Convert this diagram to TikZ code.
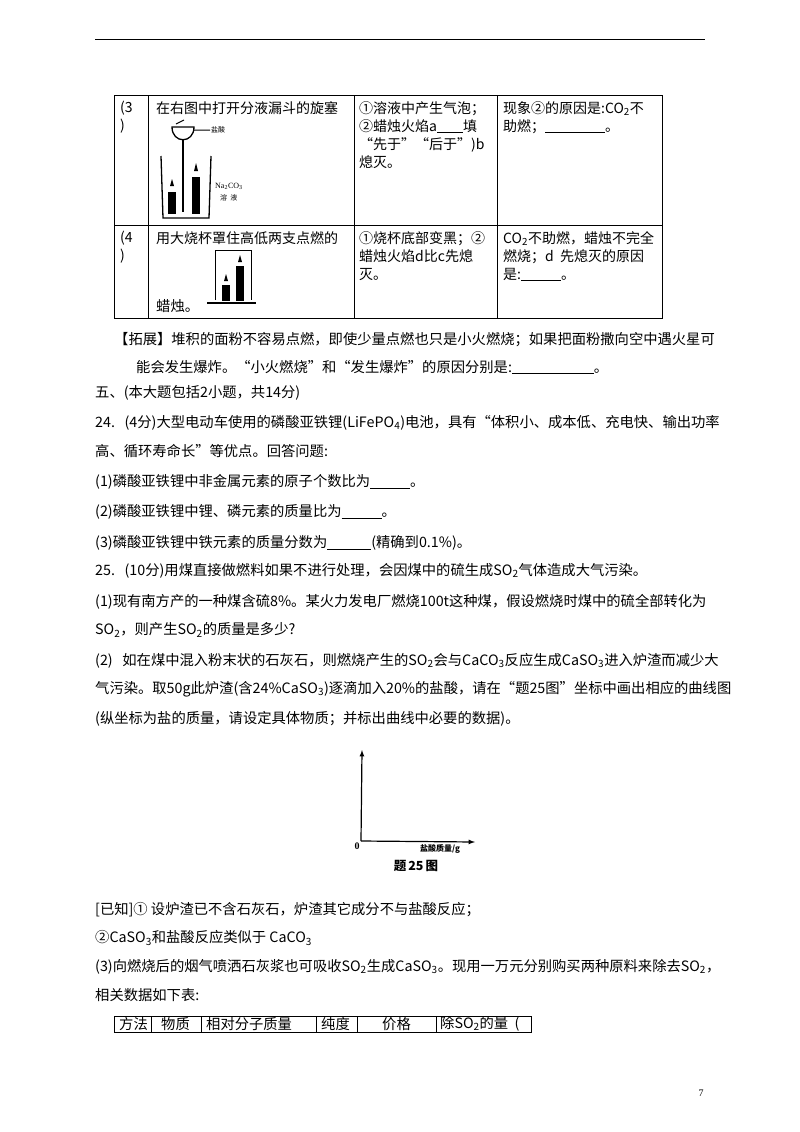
\documentclass[tikz,border=0pt]{standalone}
\usepackage{fontspec}
\setmainfont{Liberation Serif}
\newfontfamily\cjk{Noto Sans CJK SC}
\begin{document}
\begin{tikzpicture}[x=1pt,y=-1pt,
  tx/.style={anchor=west,inner sep=0pt,font=\cjk\fontsize{14.3}{15}\selectfont},
  cell/.style={anchor=north west,inner sep=0pt,font=\cjk\fontsize{14}{18}\selectfont,align=left},
  ln/.style={line width=0.6pt}]
\useasboundingbox (0,0) rectangle (800,1132);
\draw[line width=1pt] (95,40) -- (705,40);
% upper table
\draw[ln] (114,95) rectangle (662,318);
\draw[ln] (114,225) -- (662,225);
\foreach \x in {148,354,497} \draw[ln] (\x,95) -- (\x,318);
\node[cell] (r3a) at (120,101) {(3\\)};
\node[cell] (r3b) at (156,101) {在右图中打开分液漏斗的旋塞};
\node[cell,text width=140pt] (r3c) at (359,101) {①溶液中产生气泡；\\②蜡烛火焰a\underline{\hspace{26pt}}填\\“先于”“后于”)b\\熄灭。};
\node[cell] (r3d) at (503,101) {现象②的原因是:CO\textsubscript{2}不\\助燃；\underline{\hspace{60pt}}。};
\node[cell] (r4a) at (120,231) {(4\\)};
\node[cell] (r4b) at (156,231) {用大烧杯罩住高低两支点燃的};
\node[tx] (r4b2) at (156,306) {蜡烛。};
\node[cell] (r4c) at (359,231) {①烧杯底部变黑；②\\蜡烛火焰d比c先熄\\灭。};
\node[cell] (r4d) at (503,231) {CO\textsubscript{2}不助燃，蜡烛不完全\\燃烧；d\ \ 先熄灭的原因\\是:\underline{\hspace{40pt}}。};
% apparatus row 3
\draw[line width=1.3pt] (161,156) -- (163,218) -- (209,218) -- (211,156);
\draw[line width=1.3pt] (172,127) .. controls (172,144) and (194,144) .. (194,127) -- cycle;
\draw[line width=1.2pt] (183,140) -- (183,212);
\draw[line width=1pt] (176,124) -- (184,120) (194,130) -- (210,130);
\node[anchor=west,inner sep=0pt,font=\cjk\fontsize{7}{8}\selectfont] (hcl) at (211,130) {盐酸};
\fill (168,192) rectangle (176,214); \fill (170,186) -- (172,179) -- (174,186) -- cycle;
\fill (192,177) rectangle (200,214); \fill (194,171) -- (196,163) -- (198,171) -- cycle;
\node[anchor=west,inner sep=0pt,font=\fontsize{8}{9}\selectfont] (na) at (215,186) {Na\textsubscript{2}CO\textsubscript{3}};
\node[anchor=west,inner sep=0pt,font=\cjk\fontsize{7}{8}\selectfont] (sol) at (220,198) {溶\ \ 液};
% apparatus row 4
\draw[line width=1pt] (215,300) -- (215,250) -- (251,250) -- (251,300);
\draw[line width=1.3pt] (207,303) -- (256,303);
\fill (222,285) rectangle (230,301); \fill (224,281) -- (226,274) -- (228,281) -- cycle;
\fill (236,266) rectangle (244,301); \fill (238,262) -- (240,255) -- (242,262) -- cycle;
% text
\node[tx] (t1) at (114,340) {【拓展】堆积的面粉不容易点燃，即使少量点燃也只是小火燃烧；如果把面粉撒向空中遇火星可};
\node[tx] (t2) at (136,367) {能会发生爆炸。“小火燃烧”和“发生爆炸”的原因分别是:\underline{\hspace{82pt}}。};
\node[tx] (t3) at (95,393) {五、(本大题包括2小题，共14分)};
\node[tx] (t4) at (95,423) {24.\ \ \ (4分)大型电动车使用的磷酸亚铁锂(LiFePO\textsubscript{4})电池，具有“体积小、成本低、充电快、输出功率};
\node[tx] (t5) at (95,451) {高、循环寿命长”等优点。回答问题:};
\node[tx] (t6) at (95,482) {(1)磷酸亚铁锂中非金属元素的原子个数比为\underline{\hspace{40pt}}。};
\node[tx] (t7) at (95,512) {(2)磷酸亚铁锂中锂、磷元素的质量比为\underline{\hspace{40pt}}。};
\node[tx] (t8) at (95,543) {(3)磷酸亚铁锂中铁元素的质量分数为\underline{\hspace{44pt}}(精确到0.1\%)。};
\node[tx] (t9) at (95,571) {25.\ \ \ (10分)用煤直接做燃料如果不进行处理，会因煤中的硫生成SO\textsubscript{2}气体造成大气污染。};
\node[tx] (t10) at (95,602) {(1)现有南方产的一种煤含硫8\%。某火力发电厂燃烧100t这种煤，假设燃烧时煤中的硫全部转化为};
\node[tx] (t11) at (95,630) {SO\textsubscript{2}，则产生SO\textsubscript{2}的质量是多少?};
\node[tx] (t12) at (95,661) {(2)\ \ \ 如在煤中混入粉末状的石灰石，则燃烧产生的SO\textsubscript{2}会与CaCO\textsubscript{3}反应生成CaSO\textsubscript{3}进入炉渣而减少大};
\node[tx] (t13) at (95,689) {气污染。取50g此炉渣(含24\%CaSO\textsubscript{3})逐滴加入20\%的盐酸，请在“题25图”坐标中画出相应的曲线图};
\node[tx] (t14) at (95,719) {(纵坐标为盐的质量，请设定具体物质；并标出曲线中必要的数据)。};
% graph
\coordinate (o) at (361,841);
\coordinate (ytop) at (362,750);
\coordinate (xend) at (475,842);
\draw[line width=1.2pt,-latex] (o) -- (ytop);
\draw[line width=1.2pt,-latex] (o) -- (xend);
\node[font=\bfseries\fontsize{10}{10}\selectfont,inner sep=0pt] (olab) at (357,846) {0};
\node[font=\cjk\bfseries\fontsize{8}{9}\selectfont,inner sep=0pt] (xlab) at (440,849) {盐酸质量/g};
\node[font=\cjk\bfseries\fontsize{12.5}{13}\selectfont,inner sep=0pt] (cap) at (416,866) {题\,25\,图};
\node[tx] (t15) at (95,910) {[已知]①\ 设炉渣已不含石灰石，炉渣其它成分不与盐酸反应；};
\node[tx] (t16) at (95,938) {②CaSO\textsubscript{3}和盐酸反应类似于\ CaCO\textsubscript{3}};
\node[tx] (t17) at (95,967) {(3)向燃烧后的烟气喷洒石灰浆也可吸收SO\textsubscript{2}生成CaSO\textsubscript{3}。现用一万元分别购买两种原料来除去SO\textsubscript{2}，};
\node[tx] (t18) at (95,995) {相关数据如下表:};
% bottom table
\draw[ln] (114,1016) rectangle (531,1032);
\foreach \x in {151,201,316,357,436} \draw[ln] (\x,1016) -- (\x,1032);
\node[tx] (b1) at (119,1024) {方法};
\node[tx] (b2) at (161,1024) {物质};
\node[tx] (b3) at (206,1024) {相对分子质量};
\node[tx] (b4) at (321,1024) {纯度};
\node[tx] (b5) at (382,1024) {价格};
\node[tx] (b6) at (440,1024) {除SO\textsubscript{2}的量\ \ (};
\node[inner sep=0pt,font=\fontsize{10}{12}\selectfont] (pg) at (701,1093) {7};
\end{tikzpicture}
\end{document}
